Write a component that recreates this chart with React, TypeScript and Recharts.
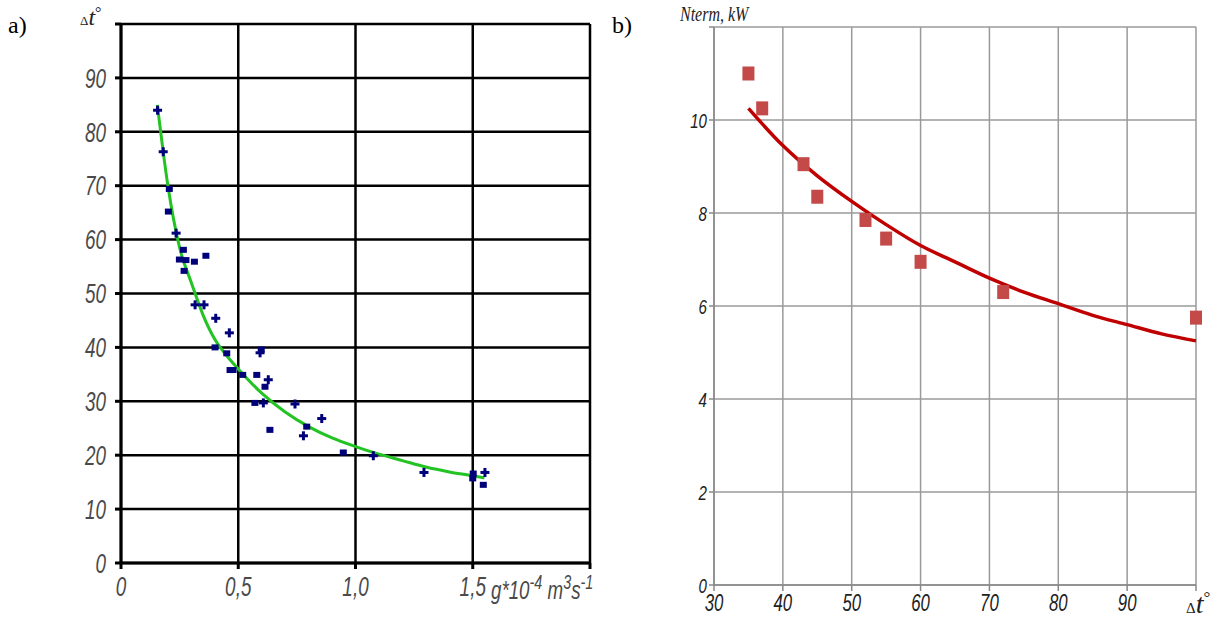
import React from 'react';
import { ComposedChart, Line, Scatter, XAxis, YAxis, CartesianGrid } from 'recharts';

// a) temperature difference vs flow rate
const crossG = [0.156, 0.18, 0.235, 0.316, 0.354, 0.404, 0.462, 0.593, 0.628, 0.607, 0.742, 0.856, 0.778, 1.076, 1.292, 1.552];
const crossDt = [84.0, 76.3, 61.2, 47.9, 47.9, 45.4, 42.7, 39.0, 34.0, 29.7, 29.5, 26.8, 23.6, 19.9, 16.8, 16.8];
const squareG = [0.206, 0.202, 0.249, 0.266, 0.277, 0.313, 0.362, 0.269, 0.401, 0.451, 0.465, 0.478, 0.519, 0.579, 0.598, 0.614, 0.571, 0.635, 0.792, 0.948, 1.502, 1.5, 1.545];
const squareDt = [69.4, 65.2, 56.3, 58.1, 56.2, 55.9, 57.0, 54.2, 40.0, 38.9, 35.8, 35.8, 34.9, 34.9, 39.6, 32.7, 29.7, 24.7, 25.3, 20.5, 16.6, 15.7, 14.5];
const fitG = [0.155, 0.2, 0.25, 0.3, 0.35, 0.4, 0.45, 0.5, 0.6, 0.7, 0.8, 0.9, 1.0, 1.1, 1.2, 1.3, 1.4, 1.5, 1.55];
const fitDt = [85, 70, 58.5, 52, 46, 41.5, 38.5, 36, 31.5, 28, 25.3, 23.2, 21.6, 20.2, 19, 17.8, 16.9, 16.2, 15.8];
const gTicks = [0, 0.5, 1, 1.5, 2];
const dtTicksA = [0, 10, 20, 30, 40, 50, 60, 70, 80, 90, 100];

// b) thermal power vs temperature difference
const pointDt = [35, 37, 43, 45, 52, 55, 60, 72, 100];
const pointN = [11.0, 10.25, 9.05, 8.35, 7.85, 7.45, 6.95, 6.3, 5.75];
const curveDt = [35, 40, 45, 50, 55, 60, 65, 70, 75, 80, 85, 90, 95, 100];
const curveN = [10.25, 9.45, 8.8, 8.25, 7.75, 7.3, 6.95, 6.6, 6.3, 6.05, 5.8, 5.6, 5.4, 5.25];
const dtTicksB = [30, 40, 50, 60, 70, 80, 90, 100];
const nTicks = [0, 2, 4, 6, 8, 10, 12];

const zip = (xs: number[], ys: number[]) => xs.map((x, i) => ({ x, y: ys[i] }));

const narrowTick = (format: (v: number) => string, opts: { anchor: string; dy: string; size: number; color: string; sx: number }) =>
  (props: any) => {
    const { x, y, payload } = props;
    return (
      <text
        transform={`translate(${x},${y}) scale(${opts.sx},1)`}
        textAnchor={opts.anchor}
        dy={opts.dy}
        fontSize={opts.size}
        fontStyle="italic"
        fontFamily="'Liberation Sans', Arial, sans-serif"
        fill={opts.color}
      >
        {format(payload.value)}
      </text>
    );
  };

const plus = (props: any) => {
  const { cx, cy } = props;
  return (
    <g fill="#00007a">
      <rect x={cx - 4.5} y={cy - 1.5} width={9} height={3} />
      <rect x={cx - 1.5} y={cy - 4.5} width={3} height={9} />
    </g>
  );
};

const smallSquare = (props: any) => {
  const { cx, cy } = props;
  return <rect x={cx - 3.5} y={cy - 3} width={7} height={6} fill="#00007a" />;
};

const redSquare = (props: any) => {
  const { cx, cy } = props;
  return <rect x={cx - 6} y={cy - 7} width={12} height={14} fill="#c44a4a" />;
};

const App: React.FC = () => {
  return (
    <div style={{ position: 'absolute', left: 0, top: 0, width: 1219, height: 624, background: '#fff', overflow: 'hidden' }}>
      <div style={{ position: 'absolute', left: 8, top: 12, fontFamily: "'Liberation Serif', 'Times New Roman', serif", fontSize: 24 }}>a)</div>
      <div style={{ position: 'absolute', left: 612, top: 12, fontFamily: "'Liberation Serif', 'Times New Roman', serif", fontSize: 24 }}>b)</div>

      {/* a) */}
      <div style={{ position: 'absolute', left: 0, top: 0 }}>
        <ComposedChart width={600} height={624} margin={{ top: 24, right: 10, bottom: 0, left: 0 }}>
          <CartesianGrid stroke="#000" strokeWidth={2.5} />
          <XAxis
            type="number"
            dataKey="x"
            domain={[0, 2]}
            ticks={gTicks}
            height={61}
            stroke="#000"
            strokeWidth={3}
            tickSize={6}
            tickMargin={8}
            tick={narrowTick((v) => (v === 0 ? '0' : v === 2 ? '' : v.toFixed(1).replace('.', ',')), { anchor: 'middle', dy: '0.71em', size: 27, color: '#4a4a4a', sx: 0.7 })}
          />
          <YAxis
            type="number"
            dataKey="y"
            domain={[0, 100]}
            ticks={dtTicksA}
            width={121}
            stroke="#000"
            strokeWidth={3}
            tickSize={6}
            tickMargin={9}
            tick={narrowTick((v) => (v === 100 ? '' : String(v)), { anchor: 'end', dy: '0.36em', size: 27, color: '#4a4a4a', sx: 0.7 })}
          />
          <Scatter data={zip(squareG, squareDt)} dataKey="y" shape={smallSquare} isAnimationActive={false} />
          <Scatter data={zip(crossG, crossDt)} dataKey="y" shape={plus} isAnimationActive={false} />
          <Line data={zip(fitG, fitDt)} dataKey="y" type="monotone" stroke="#22c322" strokeWidth={3} dot={false} isAnimationActive={false} />
        </ComposedChart>
        <div style={{ position: 'absolute', left: 80, top: 4, fontFamily: "'Liberation Serif', serif", color: '#222', whiteSpace: 'nowrap' }}>
          <span style={{ fontSize: 13 }}>Δ</span>
          <span style={{ fontSize: 24, fontStyle: 'italic' }}>t</span>
          <span style={{ fontSize: 16, verticalAlign: 'top' }}>°</span>
        </div>
        <div style={{ position: 'absolute', left: 491, top: 571, fontFamily: "'Liberation Sans', Arial, sans-serif", fontStyle: 'italic', fontSize: 26, color: '#4a4a4a', whiteSpace: 'nowrap', transform: 'scaleX(0.72)', transformOrigin: 'left top' }}>
          g*10<sup style={{ fontSize: 20 }}>-4</sup> m<sup style={{ fontSize: 20 }}>3</sup>s<sup style={{ fontSize: 20 }}>-1</sup>
        </div>
      </div>

      {/* b) */}
      <div style={{ position: 'absolute', left: 620, top: 0 }}>
        <ComposedChart width={599} height={624} margin={{ top: 27, right: 23, bottom: 0, left: 0 }}>
          <CartesianGrid stroke="#9a9a9a" strokeWidth={1.5} />
          <XAxis
            type="number"
            dataKey="x"
            domain={[30, 100]}
            ticks={dtTicksB}
            height={39}
            stroke="#888"
            strokeWidth={1.5}
            tickSize={6}
            tickMargin={3}
            tick={narrowTick((v) => (v === 100 ? '' : String(v)), { anchor: 'middle', dy: '0.71em', size: 24, color: '#222', sx: 0.7 })}
          />
          <YAxis
            type="number"
            dataKey="y"
            domain={[0, 12]}
            ticks={nTicks}
            width={94}
            stroke="#888"
            strokeWidth={1.5}
            tickSize={5}
            tickMargin={2}
            tick={narrowTick((v) => (v === 12 ? '' : String(v)), { anchor: 'end', dy: '0.36em', size: 21, color: '#222', sx: 0.72 })}
          />
          <Scatter data={zip(pointDt, pointN)} dataKey="y" shape={redSquare} isAnimationActive={false} />
          <Line data={zip(curveDt, curveN)} dataKey="y" type="monotone" stroke="#c00000" strokeWidth={3.5} dot={false} isAnimationActive={false} />
        </ComposedChart>
        <div style={{ position: 'absolute', left: 60, top: 3, fontFamily: "'Liberation Serif', serif", fontStyle: 'italic', fontSize: 20, color: '#222', whiteSpace: 'nowrap', transform: 'scaleX(0.8)', transformOrigin: 'left top' }}>
          Nterm, kW
        </div>
        <div style={{ position: 'absolute', left: 566, top: 588, fontFamily: "'Liberation Serif', serif", color: '#222', whiteSpace: 'nowrap' }}>
          <span style={{ fontSize: 15 }}>Δ</span>
          <span style={{ fontSize: 28, fontStyle: 'italic' }}>t</span>
          <span style={{ fontSize: 17, verticalAlign: 'top' }}>°</span>
        </div>
      </div>
    </div>
  );
};

export default App;
